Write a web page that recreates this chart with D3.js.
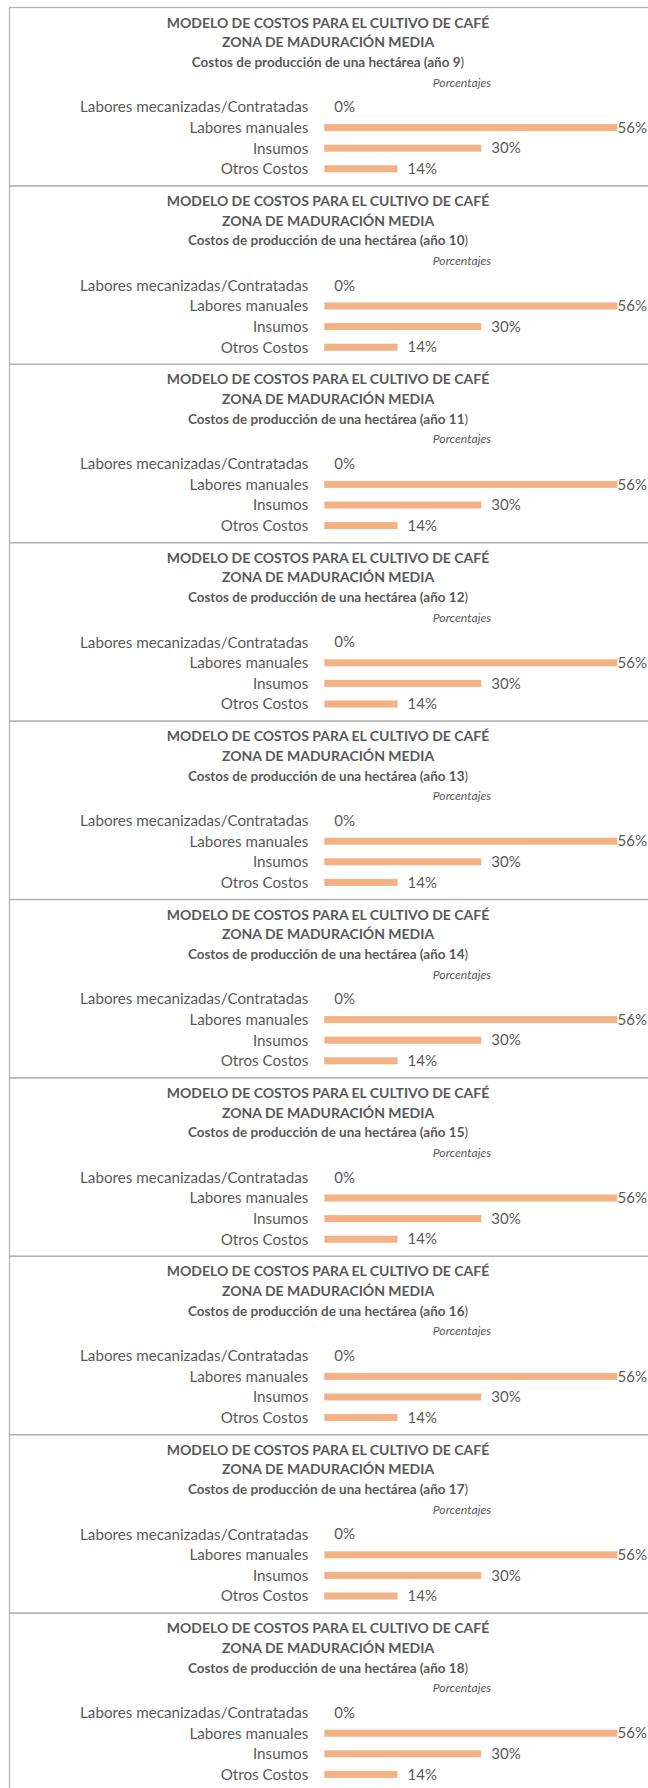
<!DOCTYPE html>
<html>
<head>
<meta charset="utf-8">
<script src="https://cdn.jsdelivr.net/npm/d3@7"></script>
<style>
  body { margin: 0; background: #fff; }
  svg { display: block; }
</style>
</head>
<body>
<div class="charts"></div>
<script>
// chart data
var years = [9, 10, 11, 12, 13, 14, 15, 16, 17, 18];
var categories = ["Labores mecanizadas/Contratadas", "Labores manuales", "Insumos", "Otros Costos"];
var values = [0, 56, 30, 14];
var titleLine1 = "MODELO DE COSTOS PARA EL CULTIVO DE CAFÉ";
var titleLine2 = "ZONA DE MADURACIÓN MEDIA";
var subtitle = "Costos de producción de una hectárea (año ";
var unitLabel = "Porcentajes";

function init() {
  var w = 648;
  var h = 1788;
  var top = 7;
  var panelH = 178.4;
  var left = 9;
  var textColor = "#595959";
  var font = "Lato, 'Open Sans', sans-serif";

  var svg = d3.select(".charts")
    .append("svg")
    .attr("width", w)
    .attr("height", h)
    .style("font-family", font);

  var xScale = d3.scaleLinear()
    .domain([0, 60])
    .range([324.3, 324.3 + 5.232 * 60]);

  var yScale = d3.scaleBand()
    .domain(categories)
    .range([89.7, 172.1])
    .paddingInner(0.66)
    .paddingOuter(0.33);

  var panels = svg.selectAll(".panel")
    .data(years)
    .enter()
    .append("g")
    .attr("class", "panel")
    .attr("transform", function(d, i) { return "translate(0," + (top + i * panelH) + ")"; });

  // panel border
  panels.append("rect")
    .attr("x", left + 0.5)
    .attr("y", 0.5)
    .attr("width", w + 20)
    .attr("height", panelH)
    .attr("fill", "none")
    .attr("stroke", "#b4b4b4")
    .attr("stroke-width", 1.3);

  // titles
  panels.append("text")
    .attr("x", 328)
    .attr("y", 15.7)
    .attr("dy", "0.35em")
    .attr("text-anchor", "middle")
    .style("font-size", "14px")
    .style("font-weight", "bold")
    .attr("fill", textColor)
    .text(titleLine1);

  panels.append("text")
    .attr("x", 328)
    .attr("y", 35.3)
    .attr("dy", "0.35em")
    .attr("text-anchor", "middle")
    .style("font-size", "14px")
    .style("font-weight", "bold")
    .attr("fill", textColor)
    .text(titleLine2);

  var sub = panels.append("text")
    .attr("x", 328)
    .attr("y", 55.3)
    .attr("dy", "0.35em")
    .attr("text-anchor", "middle")
    .style("font-size", "13.5px")
    .attr("fill", textColor);
  sub.append("tspan")
    .style("font-weight", "bold")
    .text(function(d) { return subtitle + d; });
  sub.append("tspan")
    .text(")");

  panels.append("text")
    .attr("x", 462)
    .attr("y", 75.3)
    .attr("dy", "0.35em")
    .attr("text-anchor", "middle")
    .style("font-size", "12.2px")
    .style("font-style", "italic")
    .attr("fill", textColor)
    .text(unitLabel);

  // category labels
  panels.selectAll(".cat")
    .data(categories)
    .enter()
    .append("text")
    .attr("class", "cat")
    .attr("x", 308.3)
    .attr("y", function(d) { return yScale(d) + yScale.bandwidth() / 2; })
    .attr("dy", "0.35em")
    .attr("text-anchor", "end")
    .style("font-size", "15.2px")
    .attr("fill", textColor)
    .text(function(d) { return d; });

  // bars
  panels.selectAll(".bar")
    .data(values)
    .enter()
    .append("rect")
    .attr("class", "bar")
    .attr("x", xScale(0))
    .attr("y", function(d, i) { return yScale(categories[i]); })
    .attr("width", function(d) { return xScale(d) - xScale(0); })
    .attr("height", yScale.bandwidth())
    .attr("fill", "#f4b183");

  // value labels
  panels.selectAll(".val")
    .data(values)
    .enter()
    .append("text")
    .attr("class", "val")
    .attr("y", function(d, i) { return yScale(categories[i]) + yScale.bandwidth() / 2; })
    .attr("dy", "0.35em")
    .style("font-size", "15px")
    .attr("fill", textColor)
    .text(function(d) { return d + "%"; })
    .attr("x", function(d) {
      var tw = this.getComputedTextLength();
      return Math.min(xScale(d) + 10, w - 1 - tw);
    });
}
window.onload = init;
</script>
</body>
</html>
